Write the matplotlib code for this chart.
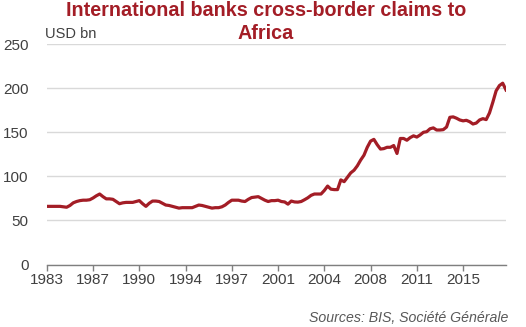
import numpy as np
import matplotlib
matplotlib.use("Agg")
import matplotlib.pyplot as plt

plt.rcParams['font.family'] = ['Liberation Sans', 'DejaVu Sans']

# quarterly cross-border claims, USD bn, starting 1983Q4
claims = [66, 66, 66, 66, 66, 65.5, 65, 67, 70, 71.5,
          72.5, 73, 73, 73.5, 75.5, 78, 80, 77, 74.5, 74.5,
          74, 71.5, 69, 70, 70.5, 70.5, 70.5, 71.5, 72.5, 69,
          66, 69.5, 72, 72, 71.5, 69.5, 67.5, 67, 66, 65,
          64, 64.5, 64.5, 64.5, 64.5, 66, 67.5, 67, 66, 65,
          64, 64.5, 64.5, 65.5, 67.5, 70.5, 73, 73, 73, 72,
          71.5, 74, 76, 76.5, 77, 75, 73, 71.5, 72.5, 72.5,
          73, 71.5, 71, 68.5, 72, 71, 70.8, 71.5, 73.5, 75.7,
          78.5, 80, 80, 80, 84, 89, 85.5, 85, 85, 96,
          94, 99, 104, 107, 112, 118.5, 124, 133, 140, 142,
          136, 131, 131.5, 133, 133, 135, 126, 143, 143, 141,
          144, 146, 144.6, 147, 150, 150.7, 154, 155, 152.6, 152.6,
          153, 156, 167, 167.5, 166, 164, 163, 163.6, 162, 159.4,
          160.5, 164, 165.5, 164.4, 172, 184, 197, 203, 205.7, 198]
tick_labels = ['1983', '1987', '1990', '1994', '1997',
               '2001', '2004', '2008', '2011', '2015']
tick_step = 14  # quarters between labelled ticks

red = '#a31d26'
grey_txt = '#404040'

fig = plt.figure(figsize=(5.26, 3.27), dpi=100)
ax = fig.add_axes([0.089, 0.191, 0.873, 0.674])

x = np.arange(len(claims))
ax.plot(x, claims, color=red, lw=2.3, solid_joinstyle='round', zorder=3)

ax.set_xlim(0, len(claims) - 1)
ax.set_ylim(0, 250)
ax.set_yticks(range(0, 251, 50))
ax.set_xticks(x[::tick_step][:len(tick_labels)])
ax.set_xticklabels(tick_labels)

ax.grid(axis='y', color='#d9d9d9', lw=1)
ax.set_axisbelow(True)
for s in ['top', 'right', 'left']:
    ax.spines[s].set_visible(False)
ax.spines['bottom'].set_color('#7f7f7f')
ax.spines['bottom'].set_linewidth(1)
ax.tick_params(axis='y', length=0, pad=13, labelsize=11, labelcolor=grey_txt)
ax.tick_params(axis='x', length=4, width=1, color='#7f7f7f', pad=2,
               labelsize=11, labelcolor=grey_txt)

# two-line title, each line placed separately
title_kw = dict(ha='center', va='center', fontsize=14.2, fontweight='bold', color=red)
fig.text(0.505, 0.968, 'International banks cross-border claims to', **title_kw)
fig.text(0.505, 0.898, 'Africa', **title_kw)
fig.text(0.086, 0.895, 'USD bn', ha='left', va='center', fontsize=10.5,
         color=grey_txt)
fig.text(0.966, 0.027, 'Sources: BIS, Soci\u00e9t\u00e9 G\u00e9n\u00e9rale',
         ha='right', va='center', fontsize=10.2, style='italic',
         color='#595959')

fig.savefig('out.png', dpi=100)
